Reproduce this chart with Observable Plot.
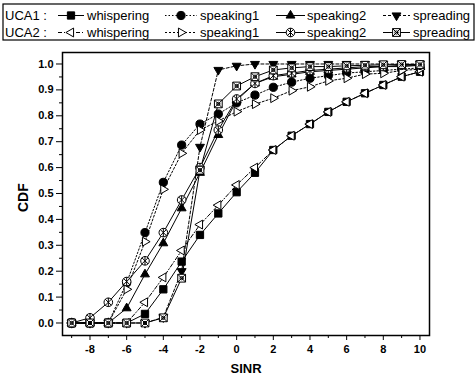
<!DOCTYPE html>
<html>
<head>
<meta charset="utf-8">
<script src="https://cdn.jsdelivr.net/npm/d3@7"></script>
<script src="https://cdn.jsdelivr.net/npm/@observablehq/plot@0.6"></script>
<style>
  html, body { margin: 0; padding: 0; background: #fff; }
  #legend, #chart svg { display: block; }
</style>
</head>
<body>
<svg id="legend" width="475" height="44"></svg>
<div id="chart"></div>
<script>
// ---- data ----
const sinr = [-9,-8,-7,-6,-5,-4,-3,-2,-1,0,1,2,3,4,5,6,7,8,9,10];

const uca1Whispering = [0,0,0,0,0.035,0.13,0.237,0.34,0.423,0.505,0.58,0.668,0.723,0.768,0.815,0.854,0.887,0.919,0.951,0.97];
const uca1Speaking1  = [0,0,0,0.155,0.349,0.543,0.687,0.768,0.807,0.85,0.88,0.91,0.93,0.945,0.955,0.965,0.97,0.975,0.98,0.985];
const uca1Speaking2  = [0,0,0,0.057,0.188,0.308,0.443,0.58,0.726,0.86,0.925,0.951,0.96,0.97,0.975,0.98,0.985,0.99,0.99,0.995];
const uca1Spreading  = [0,0,0,0,0,0.022,0.2,0.68,0.977,0.993,1,1,1,1,1,1,1,1,1,1];

const uca2Whispering = [0,0,0,0,0.08,0.176,0.28,0.38,0.455,0.533,0.6,0.668,0.723,0.768,0.815,0.854,0.887,0.919,0.951,0.97];
const uca2Speaking1  = [0,0,0,0.13,0.314,0.516,0.655,0.745,0.78,0.816,0.845,0.868,0.897,0.912,0.935,0.945,0.961,0.964,0.975,0.98];
const uca2Speaking2  = [0,0.02,0.08,0.16,0.24,0.349,0.475,0.6,0.745,0.865,0.925,0.955,0.965,0.975,0.98,0.985,0.99,0.99,0.995,0.995];
const uca2Spreading  = [0,0,0,0,0,0.02,0.173,0.59,0.846,0.915,0.951,0.977,0.985,0.99,0.99,0.993,0.995,0.997,0.998,0.998];

const scenarios = ["whispering","speaking1","speaking2","spreading"];
const arrays = ["UCA1 :", "UCA2 :"];
const xTicks = [-8,-6,-4,-2,0,2,4,6,8,10];
const xMinorTicks = [-9,-7,-5,-3,-1,1,3,5,7,9];
const yTicks = [0,0.1,0.2,0.3,0.4,0.5,0.6,0.7,0.8,0.9,1.0];
const yMinorTicks = [0.05,0.15,0.25,0.35,0.45,0.55,0.65,0.75,0.85,0.95];
const xLabel = "SINR";
const yLabel = "CDF";

// ---- custom symbols ----
function rad(size){ return Math.sqrt(size/Math.PI); }
function triangle(dir){
  return {draw(ctx, size){
    const r = rad(size)*1.25, a = r*0.866, b = r*0.5;
    let p;
    if (dir==="up") p=[[0,-r],[a,b],[-a,b]];
    else if (dir==="down") p=[[0,r],[a,-b],[-a,-b]];
    else if (dir==="left") p=[[-r,0],[b,-a],[b,a]];
    else p=[[r,0],[-b,-a],[-b,a]];
    ctx.moveTo(p[0][0],p[0][1]); ctx.lineTo(p[1][0],p[1][1]); ctx.lineTo(p[2][0],p[2][1]); ctx.closePath();
  }};
}
const circleX = {draw(ctx, size){
  const r = rad(size)*1.05, k = r*0.72;
  ctx.moveTo(r,0); ctx.arc(0,0,r,0,2*Math.PI); ctx.closePath();
  ctx.moveTo(-k,-k); ctx.lineTo(k,k); ctx.moveTo(k,-k); ctx.lineTo(-k,k);
  ctx.moveTo(0,-r); ctx.lineTo(0,r);
}};
const squareX = {draw(ctx, size){
  const s = rad(size)*0.95, k = s*0.7;
  ctx.moveTo(-s,-s); ctx.lineTo(s,-s); ctx.lineTo(s,s); ctx.lineTo(-s,s); ctx.closePath();
  ctx.moveTo(-s,-s); ctx.lineTo(s,s); ctx.moveTo(s,-s); ctx.lineTo(-s,s);
  ctx.moveTo(0,0); ctx.arc(0,0,k*0.6,0,2*Math.PI);
}};

const seriesDefs = [
  {group:0, name:0, values:uca1Whispering, symbol:d3.symbolSquare, fill:"black", dash:null},
  {group:0, name:1, values:uca1Speaking1,  symbol:d3.symbolCircle, fill:"black", dash:"1.5,2"},
  {group:0, name:2, values:uca1Speaking2,  symbol:triangle("up"),  fill:"black", dash:null},
  {group:0, name:3, values:uca1Spreading,  symbol:triangle("down"),fill:"black", dash:"3,2"},
  {group:1, name:0, values:uca2Whispering, symbol:triangle("left"), fill:"white", dash:"4,2,1,2"},
  {group:1, name:1, values:uca2Speaking1,  symbol:triangle("right"),fill:"white", dash:"2,2"},
  {group:1, name:2, values:uca2Speaking2,  symbol:circleX, fill:"white", dash:null},
  {group:1, name:3, values:uca2Spreading,  symbol:squareX, fill:"white", dash:null}
];
const R = 4.1;

// ---- legend (above the chart) ----
const leg = d3.select("#legend");
leg.append("rect").attr("x",3).attr("y",4).attr("width",471).attr("height",36)
   .attr("fill","none").attr("stroke","black").attr("stroke-width",1.2);
const rowY = [15.5, 32.5];
const items = [{x0:58,x1:84,tx:87},{x0:165,x1:197,tx:200},{x0:276,x1:305,tx:307},{x0:383,x1:410,tx:413}];
const fontLeg = "Liberation Sans, Arial, sans-serif";
arrays.forEach((lab, gi) => {
  leg.append("text").attr("x",5).attr("y",rowY[gi]).attr("dy","0.35em")
     .attr("font-family",fontLeg).attr("font-size",13).text(lab);
  seriesDefs.filter(s => s.group===gi).forEach(s => {
    const it = items[s.name];
    leg.append("line").attr("x1",it.x0).attr("x2",it.x1).attr("y1",rowY[gi]).attr("y2",rowY[gi])
       .attr("stroke","black").attr("stroke-width",1).attr("stroke-dasharray",s.dash);
    leg.append("path").attr("transform",`translate(${(it.x0+it.x1)/2},${rowY[gi]})`)
       .attr("d", d3.symbol(s.symbol, Math.PI*R*R)())
       .attr("fill",s.fill).attr("stroke","black").attr("stroke-width",1);
    leg.append("text").attr("x",it.tx).attr("y",rowY[gi]).attr("dy","0.35em")
       .attr("font-family",fontLeg).attr("font-size",13).text(scenarios[s.name]);
  });
});

// ---- chart ----
const tables = seriesDefs.map(s => sinr.map((x,i) => ({x, y:s.values[i]})));
const marks = [];
seriesDefs.forEach((s,k) => marks.push(Plot.line(tables[k], {x:"x", y:"y", stroke:"black", strokeWidth:1, strokeDasharray:s.dash})));
seriesDefs.forEach((s,k) => marks.push(Plot.dot(tables[k], {x:"x", y:"y", symbol:s.symbol, r:R, fill:s.fill, stroke:"black", strokeWidth:1})));

const chart = Plot.plot({
  width: 475, height: 334,
  marginTop: 8, marginBottom: 43, marginLeft: 62, marginRight: 46,
  style: {fontFamily: "Liberation Sans, Arial, sans-serif", fontSize: "11px", fontWeight: "bold", color: "black", background: "white"},
  x: {domain: [-9.5, 10.52]},
  y: {domain: [-0.0483, 1.0444]},
  marks: [
    Plot.axisX(xTicks, {tickSize: 5, tickPadding: 5, label: null, tickFormat: d => String(d), fontWeight: "bold", fontSize: 11}),
    Plot.axisX(xMinorTicks, {tickSize: 3, tickFormat: () => "", label: null}),
    Plot.axisY(yTicks, {tickSize: 6, tickPadding: 3, tickFormat: d3.format(".1f"), label: null, fontWeight: "bold", fontSize: 11}),
    Plot.axisY(yMinorTicks, {tickSize: 3, tickFormat: () => "", label: null}),
    ...marks,
    Plot.frame({stroke: "black", strokeWidth: 1.5}),
    Plot.text([xLabel], {frameAnchor: "bottom", dy: 37, fontSize: 13, fontWeight: "bold"}),
    Plot.text([yLabel], {frameAnchor: "left", dx: -39, dy: 18, rotate: -90, fontSize: 14, fontWeight: "bold"})
  ]
});
document.getElementById("chart").appendChild(chart);
</script>
</body>
</html>
